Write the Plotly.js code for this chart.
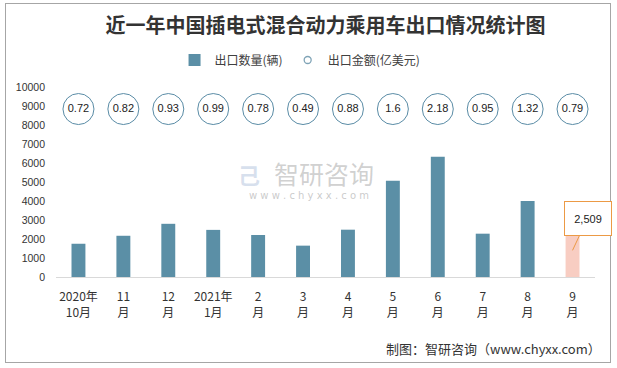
<!DOCTYPE html>
<html>
<head>
<meta charset="utf-8">
<script src="https://cdn.plot.ly/plotly-3.0.1.min.js"></script>
<style>
  html, body { margin: 0; padding: 0; background: #fff; }
  #wrap { position: relative; width: 617px; height: 368px; overflow: hidden; }
  #frame { position: absolute; left: 5px; top: 3px; width: 606px; height: 360px; border: 1px solid #a6a6a6; box-sizing: border-box; }
  #chart { position: absolute; left: 0; top: 0; width: 617px; height: 368px; }
</style>
</head>
<body>
<div id="wrap">
  <div id="frame"></div>
  <div id="chart"></div>
</div>
<script>
// ---- data ----
const categories = ["2020年<br>10月", "11<br>月", "12<br>月", "2021年<br>1月", "2<br>月", "3<br>月", "4<br>月", "5<br>月", "6<br>月", "7<br>月", "8<br>月", "9<br>月"];
const exportVolume = [1750, 2170, 2800, 2480, 2210, 1650, 2490, 5070, 6330, 2280, 4000, 2509]; // 辆
const exportValue = [0.72, 0.82, 0.93, 0.99, 0.78, 0.49, 0.88, 1.6, 2.18, 0.95, 1.32, 0.79]; // 亿美元
const yTicks = [0, 1000, 2000, 3000, 4000, 5000, 6000, 7000, 8000, 9000, 10000];

const title = "近一年中国插电式混合动力乘用车出口情况统计图";
const volumeName = "出口数量(辆)";
const valueName = "出口金额(亿美元)";
const source = "制图：智研咨询（www.chyxx.com）";

// ---- styles ----
const barColor = "#5b8fa6";
const highlightColor = "#f8cdc2";
const circleLine = "#5a8ca6";
const calloutColor = "#ec9a45";
const lastIdx = exportVolume.length - 1;
const barColors = exportVolume.map((v, i) => i === lastIdx ? highlightColor : barColor);

const fmt = v => v.toLocaleString("en-US");

const traces = [
  {
    type: "bar",
    x: categories,
    y: exportVolume,
    name: volumeName,
    marker: { color: barColors },
    showlegend: false
  },
  // legend proxy for bars
  {
    type: "bar",
    x: [categories[0]],
    y: [null],
    name: volumeName,
    marker: { color: barColor },
    showlegend: true
  },
  {
    type: "scatter",
    mode: "markers+text",
    x: categories,
    y: exportValue.map(() => 0.884),
    yaxis: "y2",
    text: exportValue.map(v => String(v)),
    textposition: "middle center",
    textfont: { family: "Liberation Sans, Arial, sans-serif", size: 11, color: "#222" },
    marker: { symbol: "circle", size: 31, color: "#fff", line: { color: circleLine, width: 1 } },
    name: valueName,
    showlegend: false,
    cliponaxis: false
  },
  // legend proxy for circles
  {
    type: "scatter",
    mode: "markers",
    x: [categories[0]],
    y: [null],
    yaxis: "y2",
    name: valueName,
    marker: { symbol: "circle", size: 7, color: "#fff", line: { color: "#7fa3b6", width: 1.3 } },
    showlegend: true
  }
];

const layout = {
  width: 617,
  height: 368,
  margin: { l: 55.5, r: 21.5, t: 87, b: 91 },
  paper_bgcolor: "rgba(0,0,0,0)",
  plot_bgcolor: "rgba(0,0,0,0)",
  font: { family: "Noto Sans CJK SC, Liberation Sans, sans-serif", color: "#333" },
  title: {
    text: "<b>" + title + "</b>",
    font: { family: "Noto Sans CJK SC, sans-serif", size: 20, color: "#333" },
    x: 0.5, xref: "paper", xanchor: "center",
    y: 1 - 26 / 368, yref: "container", yanchor: "middle"
  },
  showlegend: true,
  legend: {
    orientation: "h",
    x: (300 - 55.5) / 540, xanchor: "center",
    y: 1 + (87 - 60) / 190, yanchor: "middle", yref: "paper",
    font: { family: "Noto Sans CJK SC, sans-serif", size: 12, color: "#404040" },
    itemwidth: 30,
    tracegroupgap: 0,
    traceorder: "normal",
    bgcolor: "rgba(0,0,0,0)"
  },
  barmode: "overlay",
  bargap: 0.69,
  xaxis: {
    type: "category",
    range: [-0.5, categories.length - 0.5],
    autorange: false,
    showgrid: false,
    showline: true,
    linecolor: "#d9d9d9",
    linewidth: 1,
    ticks: "",
    tickfont: { family: "Noto Sans CJK SC, sans-serif", size: 12, color: "#333" },
    ticklabelstandoff: 9,
    fixedrange: true
  },
  yaxis: {
    range: [0, 10000],
    autorange: false,
    tickvals: yTicks,
    ticktext: yTicks.map(v => String(v)),
    showgrid: false,
    zeroline: false,
    showline: false,
    ticks: "",
    ticklabelstandoff: 10,
    tickfont: { family: "Liberation Sans, Arial, sans-serif", size: 10.5, color: "#333" }
  },
  yaxis2: {
    overlaying: "y",
    range: [0, 1],
    autorange: false,
    visible: false,
    fixedrange: true
  },
  annotations: [
    // callout for the last bar
    {
      x: categories[lastIdx],
      y: exportVolume[lastIdx],
      xref: "x", yref: "y",
      text: fmt(exportVolume[lastIdx]),
      showarrow: true,
      arrowhead: 0,
      arrowwidth: 1,
      arrowcolor: calloutColor,
      ax: 15, ay: -32,
      yshift: -21,
      width: 44, height: 31,
      bgcolor: "#fff",
      bordercolor: calloutColor,
      borderwidth: 1,
      borderpad: 1,
      font: { family: "Liberation Sans, Arial, sans-serif", size: 11, color: "#222" }
    },
    // watermark
    {
      xref: "paper", yref: "paper",
      x: (324 - 55.5) / 540, y: (277 - 173) / 190,
      text: "智研咨询",
      showarrow: false,
      font: { family: "Noto Sans CJK SC, sans-serif", size: 25, color: "rgba(150,150,150,0.45)" }
    },
    {
      xref: "paper", yref: "paper",
      x: (309 - 55.5) / 540, y: (277 - 195) / 190,
      text: "w w w . c h y x x . c o m",
      showarrow: false,
      font: { family: "DejaVu Sans, sans-serif", size: 10, color: "rgba(150,150,150,0.5)" }
    },
    {
      xref: "paper", yref: "paper",
      x: (249 - 55.5) / 540, y: (277 - 174) / 190,
      text: "<b>己</b>",
      showarrow: false,
      font: { family: "Noto Sans CJK SC, sans-serif", size: 22, color: "rgba(140,165,205,0.35)" }
    },
    // source
    {
      xref: "paper", yref: "paper",
      x: (604 - 55.5) / 540, xanchor: "right",
      y: (277 - 348) / 190, yanchor: "middle",
      text: source,
      showarrow: false,
      font: { family: "Noto Sans CJK SC, sans-serif", size: 13, color: "#333" }
    }
  ]
};

Plotly.newPlot("chart", traces, layout, { displayModeBar: false, staticPlot: true });
</script>
</body>
</html>
